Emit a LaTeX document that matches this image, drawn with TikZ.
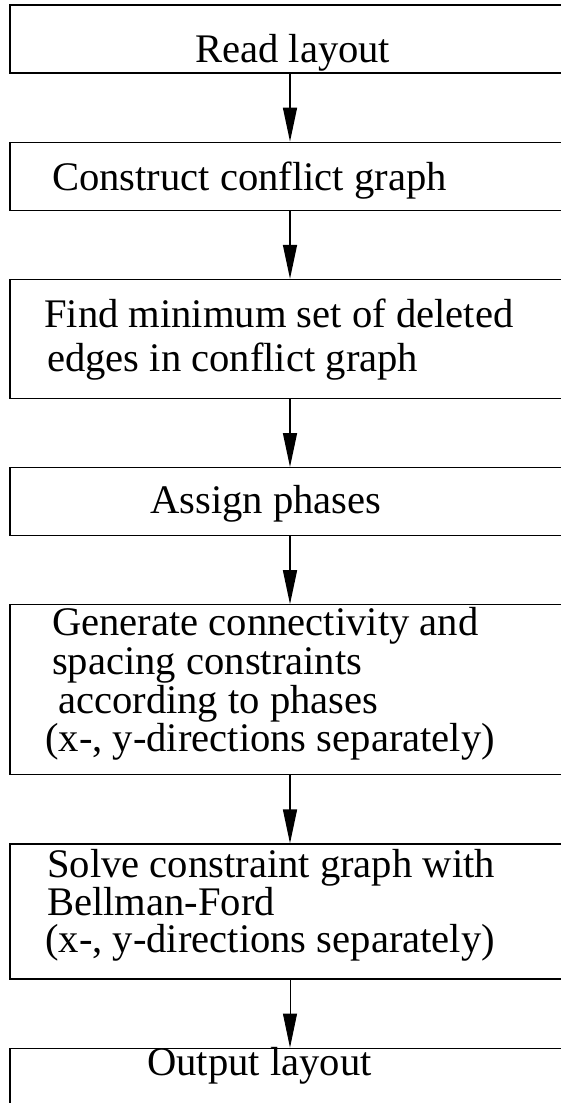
\documentclass[tikz,border=0pt]{standalone}
\usepackage{fontspec}
\setmainfont{Liberation Serif}
\usetikzlibrary{positioning, arrows.meta}
\tikzset{
    stagebox/.style={draw, line width=1.2pt, rectangle, minimum width=560pt, inner sep=0pt},
    steptext/.style={anchor=base west, inner sep=0pt, font=\fontsize{40.6}{44}\selectfont},
    arrow/.style={-{Triangle[length=34pt, width=14pt]}, line width=1.5pt},
    thinarrow/.style={arrow, line width=0.8pt}
}

\begin{document}
\begin{tikzpicture}[x=1pt, y=-1pt, node distance=68pt]
    \useasboundingbox (0,0) rectangle (561,1103);
    \clip (0,0) rectangle (561,1103);

    % Stage boxes (vertical layout)
    \node [stagebox, minimum height=68pt] (read) at (290,39) {};
    \node [stagebox, minimum height=68pt, below=of read] (construct) {};
    \node [stagebox, minimum height=119pt, below=of construct] (find) {};
    \node [stagebox, minimum height=68pt, below=of find] (assign) {};
    \node [stagebox, minimum height=170pt, below=of assign] (generate) {};
    \node [stagebox, minimum height=135pt, below=of generate] (solve) {};
    \node [stagebox, minimum height=120pt, below=of solve] (output) {};

    % Box texts
    \node [steptext] (read-1) at (195,62) {Read layout};
    \node [steptext] (construct-1) at (52,190) {Construct conflict graph};
    \node [steptext] (find-1) at (44,327) {Find minimum set of deleted};
    \node [steptext] (find-2) at (47,371) {edges in conflict graph};
    \node [steptext] (assign-1) at (150,513) {Assign phases};
    \node [steptext] (generate-1) at (52,635) {Generate connectivity and};
    \node [steptext] (generate-2) at (52,674) {spacing constraints};
    \node [steptext] (generate-3) at (58,713) {according to phases};
    \node [steptext] (generate-4) at (45,751) {(x-, y-directions separately)};
    \node [steptext] (solve-1) at (47,877) {Solve constraint graph with};
    \node [steptext] (solve-2) at (47,915) {Bellman-Ford};
    \node [steptext] (solve-3) at (45,952) {(x-, y-directions separately)};
    \node [steptext] (output-1) at (147,1075) {Output layout};

    % Connections
    \draw [arrow] (read) -- (construct);
    \draw [arrow] (construct) -- (find);
    \draw [arrow] (find) -- (assign);
    \draw [arrow] (assign) -- (generate);
    \draw [arrow] (generate) -- (solve);
    \draw [thinarrow] (solve) -- (output);
\end{tikzpicture}
\end{document}
